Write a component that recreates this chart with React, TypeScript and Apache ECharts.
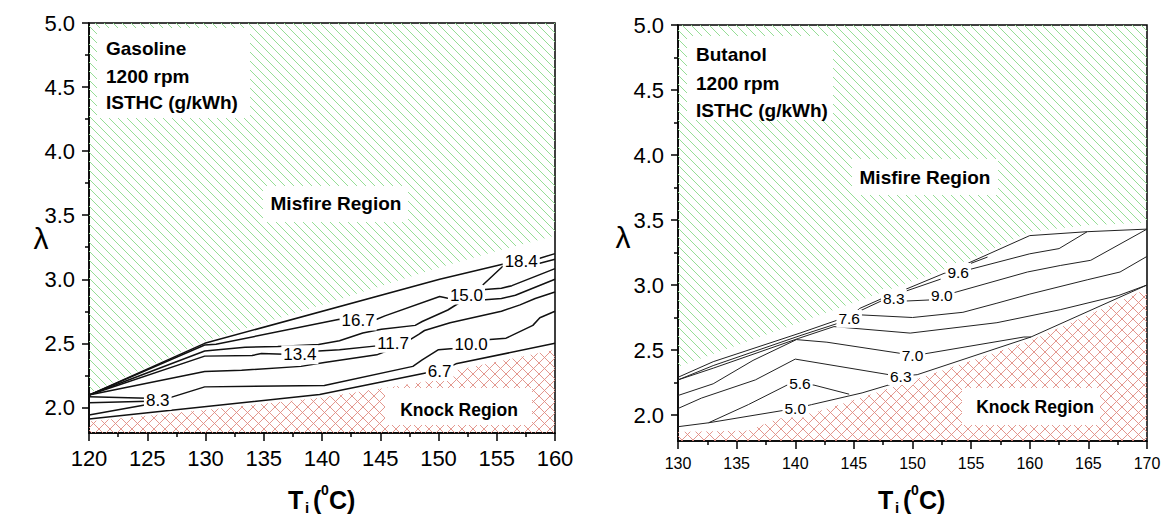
import React, { useEffect, useRef } from 'react';
import * as echarts from 'echarts';

const FONT = "'Liberation Sans', Arial, Helvetica, sans-serif";

// Shared λ axis ticks
const LAMBDA_MAJOR = [2.0, 2.5, 3.0, 3.5, 4.0, 4.5, 5.0];
const LAMBDA_MINOR = [2.25, 2.75, 3.25, 3.75, 4.25, 4.75];

// ---------- Gasoline panel ----------
const GAS_MISFIRE = [[120, 5], [120, 2.11], [130, 2.52], [140, 2.8], [150, 3.09], [155, 3.22], [160, 3.34], [160, 5]];
const GAS_KNOCK = [[120, 1.8], [120, 1.89], [130, 1.98], [139.8, 2.075], [146, 2.16], [150.2, 2.22], [151.5, 2.29], [160, 2.45], [160, 1.8]];

const gasA = [[120, 2.096], [129.93, 2.5], [150.1, 3.0], [155.5, 3.117], [157.1, 3.14], [158.7, 3.164], [160, 3.2]];
const gasB = [[153.8, 2.955], [155.5, 3.1], [157.1, 3.13], [158.7, 3.125], [160, 3.156]];
const gasC = [[120, 2.096], [129.93, 2.487], [130.9, 2.492], [141.5, 2.688], [143.1, 2.67], [144.7, 2.688], [145.4, 2.714], [150.1, 2.865], [150.8, 2.852], [152.4, 2.877], [154, 2.92], [155.4, 2.93], [156.3, 2.95], [160, 3.083]];
const gasD = [[152.4, 2.86], [154, 2.84], [155.4, 2.85], [156.6, 2.875], [160, 3.0]];
const gasE = [[120, 2.096], [129.93, 2.44], [133.4, 2.47], [136.2, 2.475], [139.7, 2.49], [141.5, 2.52], [143.5, 2.58], [145.1, 2.61], [148, 2.64], [148.6, 2.67], [150.8, 2.76], [152.2, 2.84]];
const gasF = [[120, 2.096], [129.93, 2.4], [134, 2.405], [134.8, 2.42], [138.1, 2.41], [139.7, 2.44], [141.5, 2.45], [144.7, 2.48], [146.1, 2.5], [147.6, 2.53], [148.3, 2.57], [148.8, 2.6], [151, 2.66], [155.4, 2.75], [157, 2.8], [158.3, 2.85], [160, 2.9]];
const gasG = [[120, 2.096], [129.93, 2.28], [133.1, 2.29], [138.2, 2.32], [140.2, 2.35], [144.7, 2.41], [146.1, 2.46]];
const gasH = [[120, 2.083], [125.9, 2.07], [127.1, 2.08], [129.93, 2.16], [140.2, 2.17], [147.8, 2.32], [148.6, 2.37], [150, 2.45], [151.3, 2.46], [152.8, 2.49], [154.4, 2.53], [155.8, 2.54], [158.1, 2.64], [158.7, 2.7], [160, 2.75]];
const gasI = [[120, 2.036], [125.9, 2.05]];
const gasJ = [[120, 1.94], [125.5, 2.03]];
const gasK = [[120, 1.91], [139.8, 2.1], [149, 2.27], [150.1, 2.28], [151.5, 2.34], [160, 2.5]];
const GAS_LINES = [gasA, gasB, gasC, gasD, gasE, gasF, gasG, gasH, gasI, gasJ, gasK];

const GAS_LEVELS = ['18.4', '16.7', '15.0', '13.4', '11.7', '10.0', '8.3', '6.7'];
const GAS_LEVEL_AT = [[157.1, 3.14], [143.1, 2.675], [152.4, 2.877], [138.1, 2.41], [146.1, 2.5], [152.8, 2.49], [125.9, 2.055], [150.1, 2.28]];

// ---------- Butanol panel ----------
const BUT_MISFIRE = [[130, 5], [130, 2.37], [140, 2.7], [150, 3.03], [155, 3.2], [160, 3.41], [165, 3.46], [170, 3.48], [170, 5]];
const BUT_KNOCK = [[130, 1.8], [130, 1.87], [136, 1.88], [138.5, 1.97], [141.7, 2.02], [145.5, 2.13], [149.5, 2.25], [160, 2.57], [170, 2.97], [170, 1.8]];

const butA = [[130, 2.29], [133, 2.41], [140.4, 2.63], [143.6, 2.73], [144.6, 2.75], [145.5, 2.82], [147.5, 2.9], [148.5, 2.91], [149.5, 2.97], [152.7, 3.09], [153.9, 3.1], [154.8, 3.17], [160, 3.38], [164.9, 3.41], [170, 3.43]];
const butB = [[130, 2.27], [133, 2.38], [140.4, 2.61], [143.8, 2.71]];
const butC = [[130, 2.27], [133, 2.36], [140.3, 2.59], [143.3, 2.68], [149.8, 2.63], [157.2, 2.71], [162.6, 2.81], [167.6, 2.92], [170, 3.0]];
const butD = [[145.6, 2.77], [150, 2.75], [154.3, 2.79], [157.2, 2.86], [160, 2.93], [164.9, 3.04], [167.7, 3.1], [170, 3.22]];
const butE = [[145.5, 2.8], [147.4, 2.88]];
const butF = [[149.5, 2.877], [151.5, 2.885], [152.5, 2.92], [153.5, 2.94], [159.8, 3.1], [162.6, 3.15], [165.2, 3.19], [170, 3.43]];
const butG = [[149.5, 2.955], [152.4, 3.045]];
const butH = [[154.5, 3.15], [156.4, 3.215]];
const butI = [[154.9, 3.12], [160, 3.24], [162.5, 3.28], [164.9, 3.41]];
const butJ = [[130, 2.15], [133, 2.24], [136.4, 2.42], [140.1, 2.58], [142.7, 2.56], [150, 2.46], [151, 2.47], [159.5, 2.6], [160.1, 2.6]];
const butK = [[130, 2.05], [132, 2.13], [136.6, 2.27], [140, 2.43], [148, 2.31], [149, 2.3], [150.4, 2.31], [160.1, 2.6], [170, 3.0]];
const butL = [[130, 1.91], [132.6, 1.94], [139.3, 2.04], [140, 2.05], [141.4, 2.08], [145.7, 2.17], [148.3, 2.24], [149, 2.29]];
const butM = [[132.6, 1.94], [136, 2.08], [139.3, 2.23], [140.4, 2.24], [141.6, 2.23], [144.6, 2.16]];
const BUT_LINES = [butA, butB, butC, butD, butE, butF, butG, butH, butI, butJ, butK, butL, butM];

const BUT_LEVELS = ['9.6', '9.0', '8.3', '7.6', '7.0', '6.3', '5.6', '5.0'];
const BUT_LEVEL_AT = [[153.9, 3.1], [152.5, 2.92], [148.4, 2.9], [144.6, 2.74], [150.0, 2.46], [149.0, 2.3], [140.4, 2.24], [140.0, 2.05]];

// Clip a family of parallel 45° lines (y = sign*x + c, pixel space) to a polygon
function hatchSegments(pts: number[][], step: number, sign: number): number[][] {
  const vals = pts.map((p) => p[1] - sign * p[0]);
  const cMin = Math.min(...vals);
  const cMax = Math.max(...vals);
  const segs: number[][] = [];
  for (let c = Math.ceil(cMin / step) * step; c <= cMax; c += step) {
    const xs: number[] = [];
    for (let i = 0; i < pts.length; i++) {
      const a = pts[i];
      const b = pts[(i + 1) % pts.length];
      const fa = a[1] - sign * a[0] - c;
      const fb = b[1] - sign * b[0] - c;
      if ((fa < 0 && fb >= 0) || (fb < 0 && fa >= 0)) {
        const t = fa / (fa - fb);
        xs.push(a[0] + t * (b[0] - a[0]));
      }
    }
    xs.sort((m, n) => m - n);
    for (let k = 0; k + 1 < xs.length; k += 2) {
      segs.push([xs[k], sign * xs[k] + c, xs[k + 1], sign * xs[k + 1] + c]);
    }
  }
  return segs;
}

function hatchSeries(poly: number[][], xi: number, yi: number, step: number, signs: number[], color: string, width: number) {
  return {
    type: 'custom',
    xAxisIndex: xi,
    yAxisIndex: yi,
    silent: true,
    z: 1,
    data: [poly[0]],
    renderItem: (_params: any, api: any) => {
      const px = poly.map((p) => api.coord(p));
      const children: any[] = [];
      signs.forEach((s) => {
        hatchSegments(px, step, s).forEach((sg) => {
          children.push({
            type: 'line',
            shape: { x1: sg[0], y1: sg[1], x2: sg[2], y2: sg[3] },
            style: { stroke: color, lineWidth: width },
          });
        });
      });
      return { type: 'group', children };
    },
  };
}

function contourSeries(lines: number[][][], xi: number, yi: number, width: number, color: string) {
  return lines.map((pts) => ({
    type: 'line',
    xAxisIndex: xi,
    yAxisIndex: yi,
    data: pts,
    symbol: 'none',
    silent: true,
    z: 3,
    lineStyle: { color, width },
  }));
}

function levelLabels(levels: string[], at: number[][], xi: number, yi: number, size: number) {
  return {
    type: 'scatter',
    xAxisIndex: xi,
    yAxisIndex: yi,
    silent: true,
    z: 10,
    symbol: 'rect',
    symbolSize: 1,
    itemStyle: { color: '#fff' },
    data: levels.map((t, i) => ({ name: t, value: at[i] })),
    label: {
      show: true,
      position: 'inside',
      formatter: '{b}',
      fontFamily: FONT,
      fontSize: size,
      fontWeight: 'normal',
      color: '#000',
      opacity: 1,
      textBorderWidth: 0,
      backgroundColor: '#fff',
      padding: [1, 2],
    },
  };
}

function xAxisOf(grid: number, min: number, max: number, size: number, margin: number) {
  return {
    gridIndex: grid,
    type: 'value',
    min,
    max,
    interval: 5,
    position: 'bottom',
    axisLine: { show: true, lineStyle: { color: '#000', width: 1.5 } },
    axisTick: { show: true, length: 8, lineStyle: { color: '#000', width: 1.5 } },
    minorTick: { show: true, splitNumber: 2, length: 4, lineStyle: { color: '#000', width: 1.5 } },
    splitLine: { show: false },
    minorSplitLine: { show: false },
    axisLabel: { fontFamily: FONT, fontSize: size, color: '#000', margin },
  };
}

function yAxesOf(grid: number) {
  return [
    {
      gridIndex: grid,
      type: 'value',
      min: 1.8,
      max: 5.0,
      position: 'left',
      axisLine: { show: true, lineStyle: { color: '#000', width: 1.5 } },
      axisTick: { show: true, length: 7, customValues: LAMBDA_MAJOR, lineStyle: { color: '#000', width: 1.5 } },
      splitLine: { show: false },
      axisLabel: {
        customValues: LAMBDA_MAJOR,
        formatter: (v: number) => v.toFixed(1),
        fontFamily: FONT,
        fontSize: 22,
        color: '#000',
        margin: 14,
      },
    },
    {
      gridIndex: grid,
      type: 'value',
      min: 1.8,
      max: 5.0,
      position: 'left',
      axisLine: { show: false },
      axisTick: { show: true, length: 4, customValues: LAMBDA_MINOR, lineStyle: { color: '#000', width: 1.5 } },
      splitLine: { show: false },
      axisLabel: { show: false },
    },
  ];
}

function boxedText(x: number, y: number, w: number, h: number) {
  return { type: 'rect', shape: { x, y, width: w, height: h }, style: { fill: '#fff' }, z: 50, silent: true };
}

function label(text: string, x: number, y: number, size: number, align: string, bold = true) {
  return {
    type: 'text',
    x,
    y,
    z: 51,
    silent: true,
    style: {
      text,
      font: `${bold ? 'bold ' : ''}${size}px ${FONT}`,
      fill: '#000',
      align,
      verticalAlign: 'middle',
    },
  };
}

// "Ti (0C)" with subscript i and superscript 0
function tempTitle(left: number) {
  return [
    label('T', left, 500, 25, 'left'),
    label('i', left + 17, 507, 15, 'left'),
    label('(', left + 25, 500, 25, 'left'),
    label('0', left + 33, 490, 14, 'left'),
    label('C)', left + 41, 500, 25, 'left'),
  ];
}

export default function App() {
  const ref = useRef<HTMLDivElement>(null);

  useEffect(() => {
    if (!ref.current) return;
    const chart = echarts.init(ref.current, null, { renderer: 'svg' });
    const GREEN = '#96de96';
    const RED = '#e08c82';

    const option: any = {
      animation: false,
      backgroundColor: '#fff',
      grid: [
        { left: 89, top: 23, width: 466, height: 410, show: true, borderColor: '#000', borderWidth: 1.5, backgroundColor: 'transparent' },
        { left: 678, top: 25, width: 469, height: 416, show: true, borderColor: '#000', borderWidth: 1.5, backgroundColor: 'transparent' },
      ],
      xAxis: [xAxisOf(0, 120, 160, 22, 14), xAxisOf(1, 130, 170, 16, 14)],
      yAxis: [...yAxesOf(0), ...yAxesOf(1)],
      series: [
        hatchSeries(GAS_MISFIRE, 0, 0, 9, [1], GREEN, 1),
        hatchSeries(GAS_KNOCK, 0, 0, 11, [1, -1], RED, 0.9),
        hatchSeries(BUT_MISFIRE, 1, 2, 9, [1], GREEN, 1),
        hatchSeries(BUT_KNOCK, 1, 2, 11, [1, -1], RED, 0.9),
        ...contourSeries(GAS_LINES, 0, 0, 1.5, '#111'),
        ...contourSeries(BUT_LINES, 1, 2, 1, '#222'),
        levelLabels(GAS_LEVELS, GAS_LEVEL_AT, 0, 0, 17),
        levelLabels(BUT_LEVELS, BUT_LEVEL_AT, 1, 2, 15.5),
      ],
      graphic: [
        // Gasoline annotations
        boxedText(97, 28, 153, 90),
        label('Gasoline', 106, 48, 19, 'left'),
        label('1200 rpm', 106, 76, 19, 'left'),
        label('ISTHC (g/kWh)', 106, 102, 19, 'left'),
        boxedText(263, 186, 145, 36),
        label('Misfire Region', 336, 203, 19, 'center'),
        boxedText(385, 388, 147, 37),
        label('Knock Region', 459, 410, 17.5, 'center'),
        label('λ', 41, 238, 30, 'center', false),
        ...tempTitle(288),
        // Butanol annotations
        boxedText(687, 36, 146, 84),
        label('Butanol', 696, 54, 19, 'left'),
        label('1200 rpm', 696, 83, 19, 'left'),
        label('ISTHC (g/kWh)', 696, 110, 19, 'left'),
        boxedText(852, 159, 146, 36),
        label('Misfire Region', 925, 177, 19, 'center'),
        boxedText(962, 388, 138, 37),
        label('Knock Region', 1035, 407, 17.5, 'center'),
        label('λ', 623, 237, 30, 'center', false),
        ...tempTitle(878),
      ],
    };

    chart.setOption(option);
    return () => chart.dispose();
  }, []);

  return (
    <div
      ref={ref}
      style={{ position: 'absolute', left: 0, top: 0, width: 1167, height: 520, background: '#fff' }}
    />
  );
}
